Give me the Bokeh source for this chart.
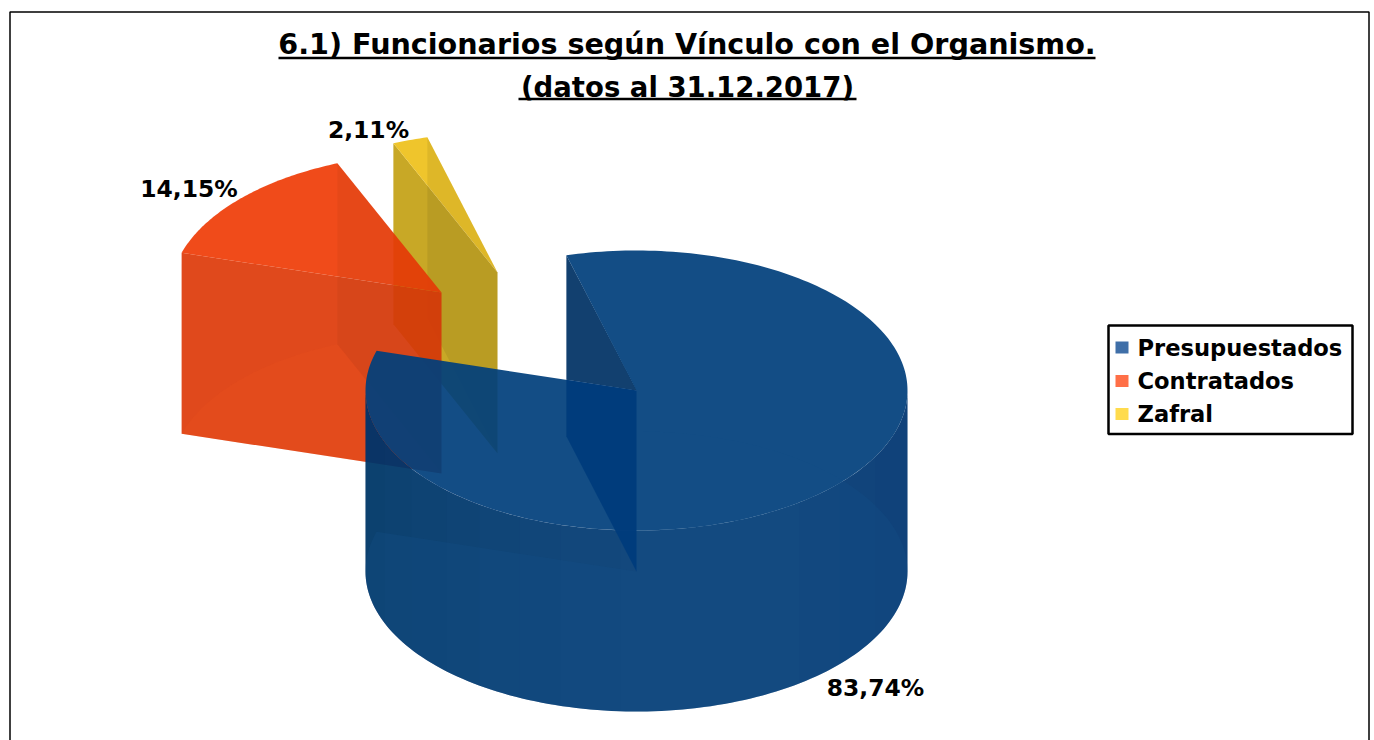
import numpy as np
from bokeh.plotting import figure
from bokeh.models import Range1d
from bokeh.core.properties import value
from bokeh.embed import file_html
from bokeh.resources import INLINE

# ---- data ----
categories = ["Presupuestados", "Contratados", "Zafral"]
shares = [83.74, 14.15, 2.11]
legend_colors = ["#3F6FA8", "#FF6F47", "#FFDB4D"]
title_text = "6.1) Funcionarios según Vínculo con el Organismo."
subtitle_text = "(datos al 31.12.2017)"

# ---- layout (the figure's data space equals picture pixels) ----
W, H = 1370, 740
RX, RY, DEPTH = 271.0, 140.0, 181.0
CX, CY = 636.0, 390.0
START = 105.0
OFFSETS = [(0, 0), (-195, -98), (-139, -118)]
ALPHA = 0.93
FONT = value("DejaVu Sans")

p = figure(width=W, height=H, output_backend="svg", toolbar_location=None,
           x_range=Range1d(0, W), y_range=Range1d(H, 0),
           min_border=0, outline_line_color=None)
p.axis.visible = False
p.grid.visible = False
p.background_fill_color = "#ffffff"
p.border_fill_color = "#ffffff"


def solid(final):
    """Fill colour that yields `final` over white at ALPHA."""
    return tuple(int(round(np.clip((f - 255 * (1 - ALPHA)) / ALPHA, 0, 255))) for f in final)


def hexc(c):
    return "#%02x%02x%02x" % tuple(int(v) for v in c)


def pt(c, ang):
    a = np.radians(ang)
    return (c[0] + RX * np.cos(a), c[1] - RY * np.sin(a))


def sector(c, a0, a1, n=80):
    xs, ys = [c[0]], [c[1]]
    for a in np.linspace(a0, a1, n):
        x, y = pt(c, a)
        xs.append(x)
        ys.append(y)
    return xs, ys


def quad_wall(c, ang):
    a = pt(c, ang)
    return [c[0], a[0], a[0], c[0]], [c[1], a[1], a[1] + DEPTH, c[1] + DEPTH]


def face(xs, ys, final, alpha=ALPHA):
    p.patch(xs, ys, fill_color=hexc(solid(final)), fill_alpha=alpha, line_color=None)


def overlay(xs, ys, color, alpha):
    p.patch(xs, ys, fill_color=color, fill_alpha=alpha, line_color=None)


# slice angles from the values
spans = [360.0 * v / sum(shares) for v in shares]
a_blue_0 = START - spans[0]       # clockwise end of blue
a_red_hi = a_blue_0 + 360.0       # red starts where blue ends
a_red_lo = a_red_hi - spans[1]
a_yel_hi = a_red_lo
a_yel_lo = a_yel_hi - spans[2]

cb = (CX + OFFSETS[0][0], CY + OFFSETS[0][1])
cr = (CX + OFFSETS[1][0], CY + OFFSETS[1][1])
cy_ = (CX + OFFSETS[2][0], CY + OFFSETS[2][1])

# ---- yellow slice (back) ----
xs, ys = quad_wall(cy_, a_yel_hi)
face(xs, ys, (200, 168, 37))
xs, ys = sector(cy_, a_yel_lo, a_yel_hi, 10)
face(xs, ys, (239, 197, 44))
xs, ys = quad_wall(cy_, a_yel_lo)
overlay(xs, ys, "#000000", 0.07)

# ---- red slice ----
xs, ys = quad_wall(cr, a_red_hi)
face(xs, ys, (224, 73, 28))
xs, ys = sector(cr, a_red_lo, a_red_hi)
face(xs, ys, (240, 75, 26))
xs, ys = quad_wall(cr, a_red_lo)
overlay(xs, ys, "#000000", 0.04)
xs, ys = sector((cr[0], cr[1] + DEPTH), a_red_lo, a_red_hi)
overlay(xs, ys, "#f2551f", 0.16)

# ---- blue slice ----
cbx, cby = cb
left_p = pt(cb, a_blue_0)
a_hi = pt(cb, START)


def wall_between(f0, f1):
    """Front wall between two horizontal fractions of the radius (-1 .. 1)."""
    th = np.linspace(np.arccos(f0), np.arccos(f1), 120)
    xx = cbx + RX * np.cos(th)
    off = RY * np.sin(th)
    return list(xx) + list(xx[::-1]), list(cby + off) + list((cby + DEPTH + off)[::-1])


# front wall in one piece, then nested shading bands (no seams between them)
xs, ys = wall_between(-1, 1)
face(xs, ys, (19, 72, 125))
for fr in [-0.06, -0.28, -0.43, -0.58, -0.70, -0.83, -0.93]:
    xs, ys = wall_between(-1, fr)
    overlay(xs, ys, "#0a2a55", 0.028)
for fr in [0.60, 0.75, 0.88]:
    xs, ys = wall_between(fr, 1)
    overlay(xs, ys, "#0a2a55", 0.03)

# inner wall seen through the gap
slope = (cby - left_p[1]) / (cbx - left_p[0])
cut_y = cby - (cbx - a_hi[0]) * slope
face([a_hi[0], cbx + 0.6, a_hi[0]], [a_hi[1], cby + 0.3, cut_y], (18, 64, 111))

# top of the blue slice
xs, ys = sector(cb, a_blue_0, START, 240)
face(xs, ys, (19, 76, 133))

# floor seen through wall and top
xs, ys = sector((cbx, cby + DEPTH), a_blue_0, START, 240)
overlay(xs, ys, "#144e88", 0.30)

# inner wall under the top surface
p.patch([a_hi[0], cbx, cbx, a_hi[0]], [cut_y, cby, cby + DEPTH, a_hi[1] + DEPTH],
        fill_color="#003c7c", fill_alpha=0.97, line_color=None)

# ---- frame ----
p.line([9.5, 9.5, 1368.5, 1368.5], [H, 11.5, 11.5, H], line_color="#000000", line_width=1.5)

# ---- titles ----
p.text([686.5], [43], text=[title_text], text_font=FONT, text_font_style="bold",
       text_font_size="28.6px", text_align="center", text_baseline="middle", text_color="#000000")
p.line([278, 1095], [57.5, 57.5], line_color="#000000", line_width=2.5)
p.text([687], [86], text=[subtitle_text], text_font=FONT, text_font_style="bold",
       text_font_size="27.5px", text_align="center", text_baseline="middle", text_color="#000000")
p.line([518, 856], [98.5, 98.5], line_color="#000000", line_width=2.5)

# ---- value labels ----
fmt = [f"{v:.2f}".replace(".", ",") + "%" for v in shares]
p.text([875, 188.5, 368], [687, 188, 129], text=fmt, text_font=FONT, text_font_style="bold",
       text_font_size="23.4px", text_align="center", text_baseline="middle", text_color="#000000")

# ---- legend ----
p.quad(left=[1108], right=[1352], top=[325], bottom=[433.5], fill_color="#ffffff",
       line_color="#000000", line_width=2.5)
rows = [347.0, 380.5, 413.5]
p.quad(left=[1115] * 3, right=[1128] * 3, top=[r - 6 for r in rows], bottom=[r + 6 for r in rows],
       fill_color=legend_colors, line_color=None)
p.text([1137] * 3, rows, text=categories, text_font=FONT, text_font_style="bold",
       text_font_size="22.6px", text_align="left", text_baseline="middle", text_color="#000000")

html = file_html(p, INLINE)
open("out.html", "w").write(html)
